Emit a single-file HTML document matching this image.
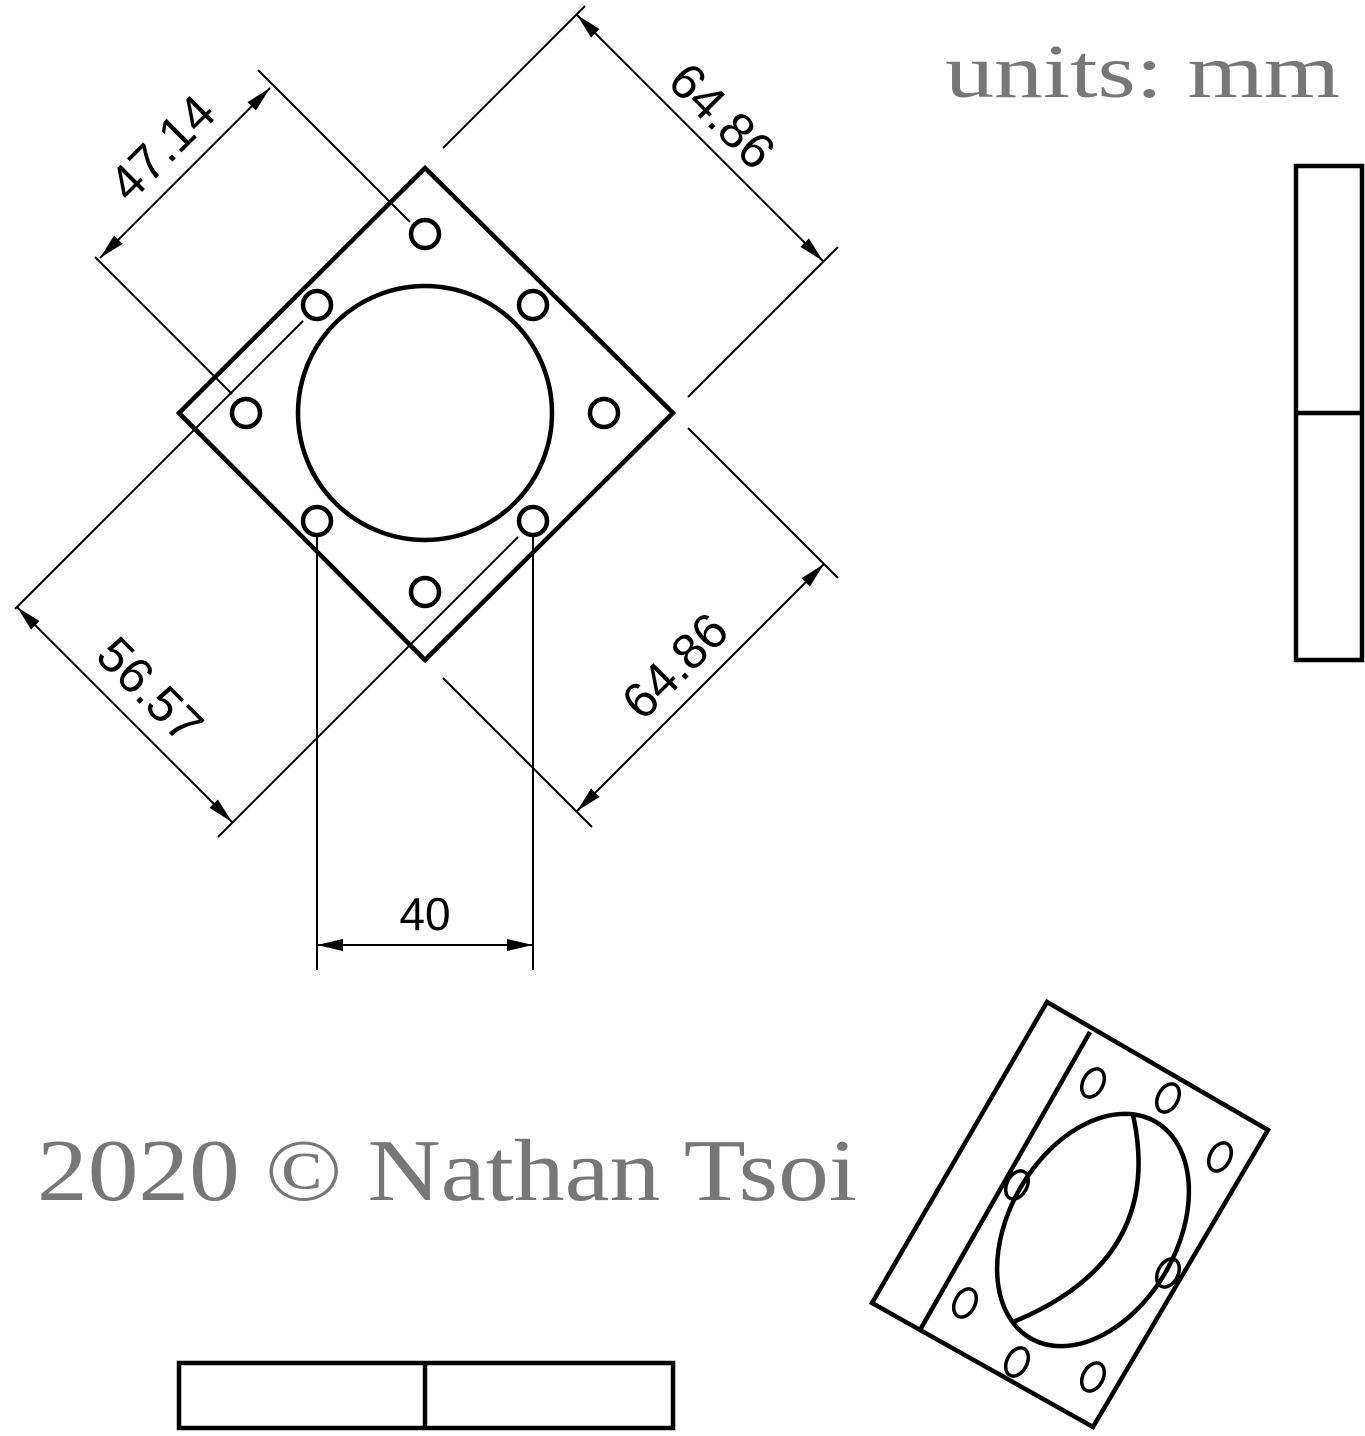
<!DOCTYPE html>
<html><head><style>html,body{margin:0;padding:0;background:#fff}svg{display:block}</style></head>
<body>
<svg width="1365" height="1436" viewBox="0 0 1365 1436" xmlns="http://www.w3.org/2000/svg">
<defs>
<marker id="a" viewBox="0 0 26 12" refX="26" refY="6" markerWidth="26" markerHeight="12" markerUnits="userSpaceOnUse" orient="auto-start-reverse">
<path d="M0,0 L26,6 L0,12 Z" fill="#000"/>
</marker>
</defs>
<g fill="none" stroke="#000">
<g stroke-width="4.5">
<polygon points="425,168 673,413 425,660 179,413"/>
<circle cx="425" cy="413" r="127"/>
<circle cx="425" cy="234" r="14"/>
<circle cx="317" cy="305" r="14"/>
<circle cx="533" cy="305" r="14"/>
<circle cx="246" cy="413" r="14"/>
<circle cx="604" cy="413" r="14"/>
<circle cx="317" cy="521" r="14"/>
<circle cx="533" cy="521" r="14"/>
<circle cx="425" cy="592" r="14"/>
</g>
<g stroke-width="2">
<line x1="258" y1="70" x2="410" y2="222"/>
<line x1="95" y1="257" x2="232" y2="394"/>
<line x1="270" y1="88" x2="100" y2="258" marker-start="url(#a)" marker-end="url(#a)"/>
<line x1="443" y1="148" x2="585" y2="6"/>
<line x1="688" y1="397" x2="838" y2="247"/>
<line x1="577" y1="15" x2="823" y2="261" marker-start="url(#a)" marker-end="url(#a)"/>
<line x1="688" y1="428" x2="838" y2="578"/>
<line x1="443" y1="678" x2="592" y2="827"/>
<line x1="824" y1="564" x2="577" y2="811" marker-start="url(#a)" marker-end="url(#a)"/>
<line x1="303" y1="321" x2="15" y2="609"/>
<line x1="518" y1="537" x2="218" y2="837"/>
<line x1="17" y1="607" x2="232" y2="822" marker-start="url(#a)" marker-end="url(#a)"/>
<line x1="317" y1="537" x2="317" y2="970"/>
<line x1="533" y1="537" x2="533" y2="970"/>
<line x1="317" y1="945" x2="533" y2="945" marker-start="url(#a)" marker-end="url(#a)"/>
</g>
<g stroke-width="4.5">
<rect x="1296" y="166" width="66" height="494"/>
<line x1="1296" y1="413" x2="1362" y2="413"/>
<rect x="179" y="1363" width="494" height="65"/>
<line x1="425" y1="1363" x2="425" y2="1428"/>
<polygon points="1047,1002 1268,1130 1093,1427 872,1303"/>
<line x1="1090" y1="1032" x2="920" y2="1330"/>
<ellipse cx="1093" cy="1230" rx="84" ry="125" transform="rotate(30 1093 1230)"/>
<path d="M1133,1115 Q1165,1260 1013,1322"/>
<g stroke-width="3.5">
<ellipse cx="1093" cy="1083" rx="10" ry="15" transform="rotate(28 1093 1083)"/>
<ellipse cx="1168" cy="1098" rx="10" ry="15" transform="rotate(28 1168 1098)"/>
<ellipse cx="1220" cy="1157" rx="10" ry="15" transform="rotate(28 1220 1157)"/>
<ellipse cx="1017" cy="1185" rx="10" ry="15" transform="rotate(28 1017 1185)"/>
<ellipse cx="1168" cy="1273" rx="10" ry="15" transform="rotate(28 1168 1273)"/>
<ellipse cx="965" cy="1303" rx="10" ry="15" transform="rotate(28 965 1303)"/>
<ellipse cx="1017" cy="1362" rx="10" ry="15" transform="rotate(28 1017 1362)"/>
<ellipse cx="1093" cy="1377" rx="10" ry="15" transform="rotate(28 1093 1377)"/>
</g>
</g>
</g>
<g font-family="Liberation Sans, sans-serif" font-size="50" fill="#000" text-anchor="middle">
<text x="0" y="0" transform="translate(162,148) rotate(-45)" dy="17">47.14</text>
<text x="0" y="0" transform="translate(722,116) rotate(45)" dy="17">64.86</text>
<text x="0" y="0" transform="translate(675,666) rotate(-45)" dy="17">64.86</text>
<text x="0" y="0" transform="translate(150,690) rotate(45)" dy="17">56.57</text>
<text x="425" y="930" font-size="46">40</text>
</g>
<g font-family="Liberation Serif, serif" fill="#777">
<text x="945" y="97" font-size="76" textLength="395" lengthAdjust="spacingAndGlyphs">units: mm</text>
<text x="37" y="1200" font-size="88" textLength="820" lengthAdjust="spacingAndGlyphs">2020 © Nathan Tsoi</text>
</g>
</svg>
</body></html>
